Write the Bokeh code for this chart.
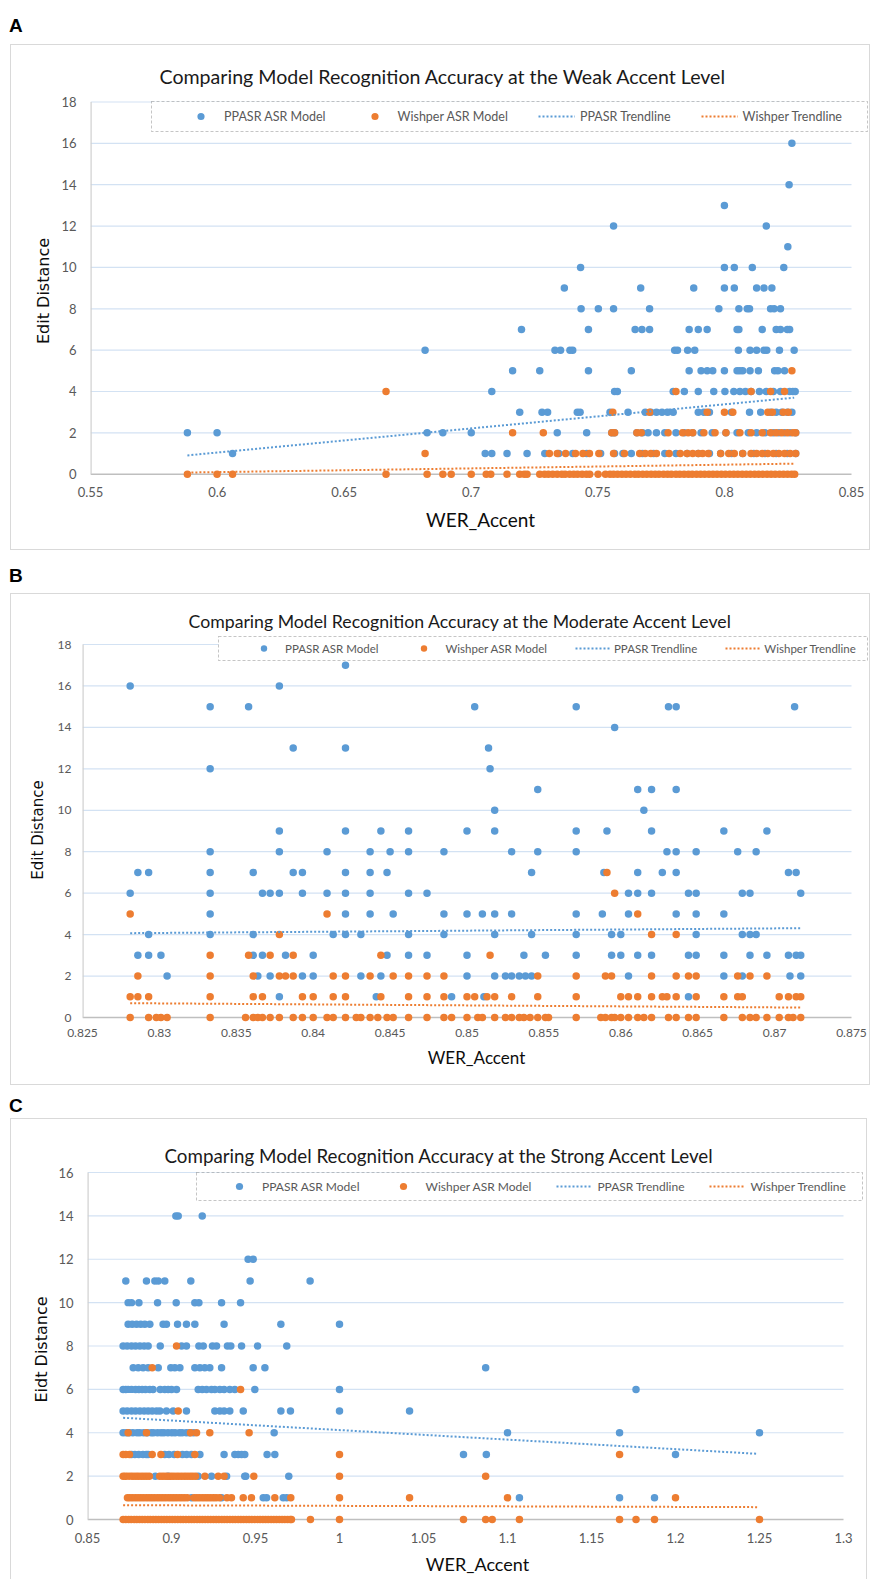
from bokeh.plotting import figure
from bokeh.models import (Range1d, FixedTicker, CustomJSTickFormatter, Legend, LegendItem,
                          BoxAnnotation, Div)
from bokeh.layouts import column
from bokeh.embed import file_html
from bokeh.resources import INLINE

BLUE = "#5B9BD5"
ORANGE = "#ED7D31"

# ------------------------------------------------------------------ data
# Panel A : weak accent  (edit distance level -> WER_Accent values)
a_blue_rows = {
    16: [0.8265],
    14: [0.8254],
    13: [0.7999],
    12: [0.7562, 0.8164],
    11: [0.8249],
    10: [0.7432, 0.7999, 0.8038, 0.8109, 0.8233],
    9: [0.7368, 0.7669, 0.7878, 0.7999, 0.8038, 0.8126, 0.8155, 0.8186],
    8: [0.7434, 0.7502, 0.7562, 0.7704, 0.7977, 0.8056, 0.8089, 0.8098, 0.8181, 0.8195, 0.8220],
    7: [0.7199, 0.7463, 0.7647, 0.7674, 0.7704, 0.7860, 0.7896, 0.7931, 0.8049, 0.8056, 0.8148,
        0.8203, 0.8220, 0.8247, 0.8256],
    6: [0.6819, 0.7331, 0.7353, 0.7390, 0.7401, 0.7803, 0.7814, 0.7854, 0.7882, 0.8054, 0.8100,
        0.8126, 0.8155, 0.8166, 0.8216, 0.8274],
    5: [0.7164, 0.7271, 0.7463, 0.7632, 0.7860, 0.7907, 0.7931, 0.7953, 0.7999, 0.8049, 0.8060,
        0.8071, 0.8100, 0.8133, 0.8197, 0.8210, 0.8236],
    4: [0.7082, 0.7566, 0.7577, 0.7797, 0.7841, 0.7896, 0.7957, 0.8001, 0.8036, 0.8060, 0.8082,
        0.8104, 0.8137, 0.8164, 0.8192, 0.8220, 0.8256, 0.8269, 0.8278],
    3: [0.7192, 0.7280, 0.7302, 0.7419, 0.7430, 0.7548, 0.7619, 0.7687, 0.7709, 0.7731, 0.7753,
        0.7775, 0.7797, 0.7896, 0.7918, 0.7940, 0.8027, 0.8098, 0.8142, 0.8181, 0.8203, 0.8225,
        0.8247, 0.8265],
    2: [0.5882, 0.5999, 0.6827, 0.6889, 0.7001, 0.7340, 0.7456, 0.7555, 0.7566, 0.7654, 0.7676,
        0.7698, 0.7731, 0.7764, 0.7808, 0.7841, 0.7874, 0.7907, 0.7951, 0.8005, 0.8049, 0.8093,
        0.8126, 0.8159, 0.8192, 0.8214, 0.8236, 0.8258, 0.8280],
    1: [0.6060, 0.7056, 0.7082, 0.7142, 0.7221, 0.7291, 0.7346, 0.7401, 0.7456, 0.7511, 0.7566,
        0.7599, 0.7632, 0.7676, 0.7720, 0.7764, 0.7808, 0.7852, 0.7896, 0.7940, 0.7984, 0.8027,
        0.8071, 0.8115, 0.8159, 0.8203, 0.8247, 0.8280],
}
a_orange_rows = {
    5: [0.8265],
    4: [0.6665, 0.7808, 0.8104, 0.8181, 0.8236],
    3: [0.7559, 0.7704, 0.7931, 0.7999, 0.8032, 0.8170, 0.8188, 0.8231, 0.8251],
    2: [0.7164, 0.7285, 0.7555, 0.7566, 0.7654, 0.7671, 0.7777, 0.7834, 0.7856, 0.7874, 0.7918,
        0.7962, 0.8005, 0.8060, 0.8104, 0.8148, 0.8181, 0.8203, 0.8225, 0.8247, 0.8269, 0.8280],
    1: [0.6819, 0.7309, 0.7340, 0.7373, 0.7412, 0.7441, 0.7467, 0.7504, 0.7562, 0.7605, 0.7665,
        0.7687, 0.7709, 0.7731, 0.7781, 0.7825, 0.7852, 0.7874, 0.7896, 0.7913, 0.7935, 0.7984,
        0.8016, 0.8038, 0.8071, 0.8104, 0.8126, 0.8148, 0.8170, 0.8192, 0.8214, 0.8236, 0.8258,
        0.8280],
    0: [0.5882, 0.5999, 0.6060, 0.6665, 0.6827, 0.6889, 0.6922, 0.7001, 0.7060, 0.7078, 0.7142,
        0.7192, 0.7210, 0.7221, 0.7271, 0.7290, 0.7305, 0.7322, 0.7340, 0.7358, 0.7371, 0.7389,
        0.7405, 0.7420, 0.7438, 0.7455, 0.7468, 0.7501, 0.7530, 0.7548, 0.7562, 0.7578, 0.7595,
        0.7611, 0.7628, 0.7646, 0.7660, 0.7677, 0.7693, 0.7710, 0.7726, 0.7741, 0.7759, 0.7775,
        0.7790, 0.7808, 0.7823, 0.7840, 0.7857, 0.7872, 0.7889, 0.7905, 0.7921, 0.7938, 0.7954,
        0.7970, 0.7987, 0.8003, 0.8020, 0.8036, 0.8052, 0.8069, 0.8085, 0.8101, 0.8118, 0.8134,
        0.8150, 0.8167, 0.8183, 0.8199, 0.8216, 0.8232, 0.8248, 0.8264, 0.8276],
}
a_trend_x = [0.5882, 0.8274]
a_blue_trend = [0.91, 3.70]
a_orange_trend = [0.08, 0.51]
a_xticks = [0.55, 0.6, 0.65, 0.7, 0.75, 0.8, 0.85]
a_yticks = [0, 2, 4, 6, 8, 10, 12, 14, 16, 18]

# Panel B : moderate accent
b_blue_rows = {
    17: [0.8421],
    16: [0.8281, 0.8378],
    15: [0.8333, 0.8358, 0.8505, 0.8571, 0.8631, 0.8636, 0.8713],
    14: [0.8596],
    13: [0.8387, 0.8421, 0.8514],
    12: [0.8333, 0.8515],
    11: [0.8546, 0.8611, 0.8620, 0.8636],
    10: [0.8518, 0.8615],
    9: [0.8378, 0.8421, 0.8444, 0.8462, 0.8500, 0.8518, 0.8571, 0.8591, 0.8620, 0.8667, 0.8695],
    8: [0.8333, 0.8378, 0.8409, 0.8437, 0.8450, 0.8462, 0.8485, 0.8529, 0.8546, 0.8571, 0.8630,
        0.8636, 0.8649, 0.8676, 0.8688],
    7: [0.8286, 0.8293, 0.8333, 0.8361, 0.8387, 0.8393, 0.8421, 0.8437, 0.8448, 0.8542, 0.8589,
        0.8611, 0.8627, 0.8636, 0.8709, 0.8714],
    6: [0.8281, 0.8333, 0.8367, 0.8372, 0.8378, 0.8393, 0.8409, 0.8421, 0.8437, 0.8462, 0.8474,
        0.8605, 0.8611, 0.8620, 0.8644, 0.8649, 0.8679, 0.8684, 0.8717],
    5: [0.8333, 0.8421, 0.8437, 0.8452, 0.8485, 0.8500, 0.8510, 0.8518, 0.8529, 0.8571, 0.8588,
        0.8605, 0.8636, 0.8649, 0.8667],
    4: [0.8293, 0.8333, 0.8361, 0.8413, 0.8421, 0.8431, 0.8462, 0.8485, 0.8518, 0.8542, 0.8571,
        0.8594, 0.8600, 0.8649, 0.8679, 0.8684, 0.8688],
    3: [0.8286, 0.8293, 0.8301, 0.8361, 0.8367, 0.8382, 0.8400, 0.8448, 0.8462, 0.8474, 0.8500,
        0.8537, 0.8551, 0.8571, 0.8594, 0.8600, 0.8611, 0.8620, 0.8644, 0.8649, 0.8667, 0.8684,
        0.8695, 0.8709, 0.8714, 0.8717],
    2: [0.8305, 0.8364, 0.8372, 0.8393, 0.8400, 0.8431, 0.8444, 0.8500, 0.8518, 0.8525, 0.8529,
        0.8534, 0.8538, 0.8542, 0.8605, 0.8667, 0.8679, 0.8710, 0.8717],
    1: [0.8378, 0.8441, 0.8490, 0.8511, 0.8644],
}
b_orange_rows = {
    7: [0.8591],
    6: [0.8596],
    5: [0.8281, 0.8409, 0.8611],
    4: [0.8378, 0.8620, 0.8636],
    3: [0.8333, 0.8358, 0.8372, 0.8387, 0.8444, 0.8515],
    2: [0.8286, 0.8333, 0.8361, 0.8378, 0.8382, 0.8387, 0.8413, 0.8421, 0.8437, 0.8452, 0.8462,
        0.8474, 0.8485, 0.8546, 0.8571, 0.8590, 0.8594, 0.8620, 0.8636, 0.8644, 0.8649, 0.8676,
        0.8684, 0.8695],
    1: [0.8281, 0.8286, 0.8293, 0.8333, 0.8361, 0.8367, 0.8393, 0.8400, 0.8413, 0.8421, 0.8444,
        0.8462, 0.8474, 0.8485, 0.8500, 0.8505, 0.8513, 0.8518, 0.8529, 0.8546, 0.8571, 0.8600,
        0.8605, 0.8611, 0.8620, 0.8627, 0.8630, 0.8636, 0.8649, 0.8667, 0.8676, 0.8679, 0.8703,
        0.8709, 0.8714, 0.8717],
    0: [0.8281, 0.8293, 0.8298, 0.8301, 0.8305, 0.8333, 0.8356, 0.8361, 0.8364, 0.8367, 0.8372,
        0.8378, 0.8387, 0.8393, 0.8400, 0.8409, 0.8413, 0.8421, 0.8428, 0.8431, 0.8437, 0.8442,
        0.8448, 0.8452, 0.8462, 0.8474, 0.8485, 0.8490, 0.8500, 0.8507, 0.8510, 0.8518, 0.8525,
        0.8529, 0.8534, 0.8537, 0.8541, 0.8546, 0.8551, 0.8553, 0.8571, 0.8587, 0.8590, 0.8594,
        0.8596, 0.8600, 0.8605, 0.8611, 0.8615, 0.8620, 0.8631, 0.8636, 0.8644, 0.8649, 0.8667,
        0.8679, 0.8684, 0.8688, 0.8695, 0.8703, 0.8709, 0.8712, 0.8717],
}
b_trend_x = [0.8281, 0.8717]
b_blue_trend = [4.07, 4.31]
b_orange_trend = [0.69, 0.48]
b_xticks = [0.825, 0.83, 0.835, 0.84, 0.845, 0.85, 0.855, 0.86, 0.865, 0.87, 0.875]
b_yticks = [0, 2, 4, 6, 8, 10, 12, 14, 16, 18]

# Panel C : strong accent
c_blue_rows = {
    14: [0.9026, 0.9040, 0.9183],
    12: [0.9456, 0.9486],
    11: [0.8728, 0.8851, 0.8901, 0.8921, 0.8960, 0.9115, 0.9468, 0.9825],
    10: [0.8742, 0.8762, 0.8806, 0.8917, 0.9028, 0.9139, 0.9163, 0.9298, 0.9411],
    9: [0.8742, 0.8766, 0.8792, 0.8817, 0.8841, 0.8871, 0.8950, 0.8970, 0.9036, 0.9089, 0.9139,
        0.9313, 0.9651, 1.0],
    8: [0.8712, 0.8736, 0.8762, 0.8786, 0.8812, 0.8837, 0.8861, 0.8933, 0.9060, 0.9089, 0.9163,
        0.9189, 0.9244, 0.9268, 0.9333, 0.9353, 0.9417, 0.9512, 0.9686],
    7: [0.8772, 0.8802, 0.8831, 0.8861, 0.8921, 0.8996, 0.9020, 0.9050, 0.9139, 0.9169, 0.9198,
        0.9228, 0.9298, 0.9486, 0.9556, 1.0870],
    6: [0.8712, 0.8728, 0.8742, 0.8762, 0.8786, 0.8806, 0.8825, 0.8845, 0.8871, 0.8890, 0.8933,
        0.8960, 0.8980, 0.9000, 0.9030, 0.9159, 0.9183, 0.9208, 0.9238, 0.9258, 0.9288, 0.9313,
        0.9347, 0.9377, 0.9496, 1.0, 1.1765],
    5: [0.8712, 0.8736, 0.8762, 0.8786, 0.8812, 0.8837, 0.8861, 0.8885, 0.8911, 0.8931, 0.8970,
        0.9010, 0.9089, 0.9258, 0.9288, 0.9313, 0.9347, 0.9427, 0.9651, 0.9708, 1.0, 1.0417],
    4: [0.8712, 0.8731, 0.8749, 0.8770, 0.8795, 0.8811, 0.8834, 0.8856, 0.8879, 0.8893, 0.8917,
        0.8938, 0.8955, 0.8979, 0.9002, 0.9021, 0.9047, 0.9063, 0.9088, 0.9107, 0.9131, 0.9611,
        1.1, 1.1667, 1.25],
    3: [0.8762, 0.8782, 0.8805, 0.8830, 0.8850, 0.8861, 0.8960, 0.8985, 0.9016, 0.9065, 0.9090,
        0.9119, 0.9169, 0.9313, 0.9377, 0.9397, 0.9417, 0.9436, 0.9569, 0.9615, 1.0738, 1.0874,
        1.2],
    2: [0.8904, 0.8980, 0.9159, 0.9238, 0.9328, 0.9436, 0.9442, 0.9698],
    1: [0.9119, 0.9298, 0.9546, 0.9566, 0.9665, 0.9686, 1.1071, 1.1667, 1.1875],
}
c_orange_rows = {
    8: [0.9030],
    7: [0.8885],
    6: [0.9411],
    5: [0.9040],
    4: [0.8742, 0.8851, 0.9113, 0.9149, 0.9228, 0.9462],
    3: [0.8712, 0.8728, 0.8750, 0.8885, 0.8937, 0.9036, 0.9139, 1.0, 1.1667],
    2: [0.8712, 0.8725, 0.8740, 0.8756, 0.8771, 0.8788, 0.8803, 0.8820, 0.8836, 0.8852, 0.8868,
        0.8930, 0.8946, 0.8962, 0.8978, 0.8995, 0.9010, 0.9027, 0.9043, 0.9060, 0.9077, 0.9093,
        0.9110, 0.9126, 0.9143, 0.9199, 0.9278, 0.9313, 0.9490, 1.0, 1.0870],
    1: [0.8738, 0.8752, 0.8768, 0.8785, 0.8801, 0.8817, 0.8833, 0.8850, 0.8866, 0.8882, 0.8898,
        0.8915, 0.8931, 0.8947, 0.8963, 0.8980, 0.8996, 0.9012, 0.9028, 0.9045, 0.9061, 0.9077,
        0.9094, 0.9135, 0.9151, 0.9167, 0.9184, 0.9200, 0.9216, 0.9232, 0.9249, 0.9265, 0.9285,
        0.9330, 0.9357, 0.9427, 0.9476, 0.9615, 0.9710, 1.0, 1.0417, 1.1, 1.2],
    0: [0.8712, 0.8728, 0.8745, 0.8760, 0.8778, 0.8793, 0.8810, 0.8826, 0.8842, 0.8859, 0.8874,
        0.8891, 0.8907, 0.8923, 0.8940, 0.8956, 0.8972, 0.8989, 0.9005, 0.9021, 0.9037, 0.9054,
        0.9070, 0.9086, 0.9103, 0.9119, 0.9135, 0.9152, 0.9168, 0.9184, 0.9201, 0.9217, 0.9233,
        0.9250, 0.9266, 0.9282, 0.9299, 0.9315, 0.9331, 0.9348, 0.9364, 0.9380, 0.9397, 0.9413,
        0.9429, 0.9446, 0.9462, 0.9478, 0.9495, 0.9511, 0.9527, 0.9544, 0.9560, 0.9576, 0.9593,
        0.9609, 0.9625, 0.9642, 0.9658, 0.9674, 0.9691, 0.9707, 0.9714, 0.9827, 1.0, 1.0738,
        1.0870, 1.0909, 1.1071, 1.1667, 1.1765, 1.1875, 1.25],
}
c_trend_x = [0.8712, 1.2486]
c_blue_trend = [4.69, 3.03]
c_orange_trend = [0.66, 0.57]
c_xticks = [0.85, 0.9, 0.95, 1.0, 1.05, 1.1, 1.15, 1.2, 1.25, 1.3]
c_yticks = [0, 2, 4, 6, 8, 10, 12, 14, 16]

legend_labels = ["PPASR ASR Model", "Wishper ASR Model", "PPASR Trendline", "Wishper Trendline"]


def flatten(rows):
    xs, ys = [], []
    for yv, row in rows.items():
        xs.extend(row)
        ys.extend([yv] * len(row))
    return xs, ys


def make_panel(title, ylabel, blue_rows, orange_rows, tx, tb, to, xticks, yticks, L):
    x0, x1 = xticks[0], xticks[-1]
    y1 = yticks[-1]
    fw, fh = L["fw"], L["fh"]
    # frame padding (px) below zero, above top tick, right of last tick
    upp = y1 / (fh - L["pb"] - L["pt"])
    xpp = (x1 - x0) / (fw - L["pr"])
    p = figure(width=L["bl"] + fw + 1, height=L["bt"] + fh + L["bb"],
               x_range=Range1d(x0, x1 + L["pr"] * xpp),
               y_range=Range1d(-L["pb"] * upp, y1 + L["pt"] * upp),
               output_backend="svg", toolbar_location=None,
               min_border_left=L["bl"], min_border_right=1,
               min_border_top=L["bt"], min_border_bottom=L["bb"],
               margin=(0, 0, 0, 10), frame_align=False)
    p.styles = L["css"]
    p.outline_line_color = None
    p.background_fill_color = "white"
    p.border_fill_color = "white"
    p.xgrid.visible = False
    p.ygrid.visible = False

    # title
    p.title.text = title
    p.title.align = "left"
    p.title.offset = L["toff"]
    p.title.standoff = L["tst"]
    p.title.text_font = "Lato"
    p.title.text_font_size = L["ts"]
    p.title.text_font_style = "normal"
    p.title.text_color = "#1A1A1A"

    for ax in (p.xaxis[0], p.yaxis[0]):
        ax.major_tick_line_color = None
        ax.minor_tick_line_color = None
        ax.major_tick_out = 0
        ax.major_tick_in = 0
        ax.minor_tick_out = 0
        ax.minor_tick_in = 0
        ax.axis_line_color = None
        ax.major_label_text_font = "Lato"
        ax.major_label_text_font_size = L["tick"]
        ax.major_label_text_color = "#595959"
        ax.axis_label_text_font_style = "normal"
        ax.axis_label_text_color = "#0D0D0D"
    p.xaxis.ticker = FixedTicker(ticks=xticks)
    p.xaxis.formatter = CustomJSTickFormatter(code="return String(Number(tick.toFixed(3)));")
    p.xaxis.major_label_standoff = L["xts"]
    p.xaxis.axis_label = "WER_Accent"
    p.xaxis.axis_label_text_font = "Lato"
    p.xaxis.axis_label_text_font_size = L["xl"]
    p.xaxis.axis_label_standoff = L["xls"]

    p.yaxis.ticker = FixedTicker(ticks=yticks)
    p.yaxis.major_label_standoff = L["yts"]
    p.yaxis.axis_label = ylabel
    p.yaxis.axis_label_text_font = "DejaVu Sans"
    p.yaxis.axis_label_text_font_size = L["yl"]
    p.yaxis.axis_label_standoff = L["yls"]

    # gridlines (only across the data area), zero baseline, y axis line
    grid_y = yticks[1:]
    p.segment(x0=[x0] * len(grid_y), y0=grid_y, x1=[x1] * len(grid_y), y1=grid_y,
              line_color="#D3E2F3", line_width=1.2)
    p.segment(x0=[x0], y0=[0], x1=[x1], y1=[0], line_color="#BFBFBF", line_width=1.6)
    p.segment(x0=[x0], y0=[0], x1=[x0], y1=[y1], line_color="#D0D0D0", line_width=2.4)

    bx, by = flatten(blue_rows)
    ox, oy = flatten(orange_rows)
    rb = p.scatter(bx, by, size=7.5, fill_color=BLUE, line_color=None)
    ro = p.scatter(ox, oy, size=7.5, fill_color=ORANGE, line_color=None)
    lb = p.line(tx, tb, line_color=BLUE, line_width=2, line_dash="2 2")
    lo = p.line(tx, to, line_color=ORANGE, line_width=2, line_dash="2 2")

    # legend frame
    p.add_layout(BoxAnnotation(left=L["box"][0], right=L["box"][1],
                               bottom=L["box"][2], top=L["box"][3],
                               left_units="screen", right_units="screen",
                               top_units="screen", bottom_units="screen",
                               fill_color="white", fill_alpha=1.0,
                               line_color="#404040", line_width=1, line_dash="3 2"))
    leg = Legend(items=[LegendItem(label=legend_labels[0], renderers=[rb]),
                        LegendItem(label=legend_labels[1], renderers=[ro]),
                        LegendItem(label=legend_labels[2], renderers=[lb]),
                        LegendItem(label=legend_labels[3], renderers=[lo])],
                 orientation="horizontal", location=L["loc"],
                 glyph_width=L["gw"], glyph_height=L["gh"], label_height=L["gh"],
                 label_width=0, label_standoff=L["lst"], spacing=L["sp"], padding=0,
                 margin=0, border_line_alpha=0, background_fill_alpha=0,
                 label_text_font="Lato", label_text_font_size=L["lfs"],
                 label_text_color="#595959")
    p.add_layout(leg)
    return p


BORDER = "1.5px solid #D9D9D9"
LA = dict(bl=79, fw=780, bt=54, fh=383, bb=69, pb=8.3, pt=2.5, pr=19,
          css={"border": BORDER},
          tick="13px", xts=4, xl="19px", xls=8, yts=14, yl="16px", yls=5,
          toff=69, tst=23, ts="19.6px",
          box=(61, 777, 351, 381), loc=(92, 357), gw=37, gh=18, lst=5, sp=30, lfs="12.5px")
LB = dict(bl=71, fw=788, bt=40, fh=391, bb=61, pb=8, pt=10, pr=19,
          css={"border": BORDER},
          tick="12px", xts=3, xl="17px", xls=7, yts=11, yl="15px", yls=8,
          toff=106, tst=6, ts="17.7px",
          box=(136, 785, 365, 389), loc=(164, 369), gw=35, gh=16, lst=4, sp=28, lfs="11.5px")
LC = dict(bl=76, fw=780, bt=51, fh=358, bb=52, pb=9, pt=2, pr=24,
          css={"border": BORDER, "border-bottom": "none"},
          tick="13px", xts=4, xl="18px", xls=7, yts=14, yl="16px", yls=4,
          toff=77, tst=7, ts="18.75px",
          box=(109, 775, 328, 356), loc=(134, 333), gw=36, gh=18, lst=5, sp=25, lfs="12px")

pa = make_panel("Comparing Model Recognition Accuracy at the Weak Accent Level", "Edit Distance",
                a_blue_rows, a_orange_rows, a_trend_x, a_blue_trend, a_orange_trend,
                a_xticks, a_yticks, LA)
pb = make_panel("Comparing Model Recognition Accuracy at the Moderate Accent Level", "Edit Distance",
                b_blue_rows, b_orange_rows, b_trend_x, b_blue_trend, b_orange_trend,
                b_xticks, b_yticks, LB)
pc = make_panel("Comparing Model Recognition Accuracy at the Strong Accent Level", "Eidt Distance",
                c_blue_rows, c_orange_rows, c_trend_x, c_blue_trend, c_orange_trend,
                c_xticks, c_yticks, LC)


def letter(t, lh, top, bottom):
    return Div(text=t, width=60, margin=(top, 0, bottom, 9),
               styles={"font-family": "'Liberation Sans', Arial, sans-serif", "font-weight": "bold",
                       "font-size": "19px", "line-height": f"{lh}px", "color": "#000000"})


layout = column(letter("A", 20, 16, 8), pa, letter("B", 20, 16, 7), pb, letter("C", 20, 11, 2), pc,
                spacing=0)

open("out.html", "w").write(file_html(layout, INLINE))
